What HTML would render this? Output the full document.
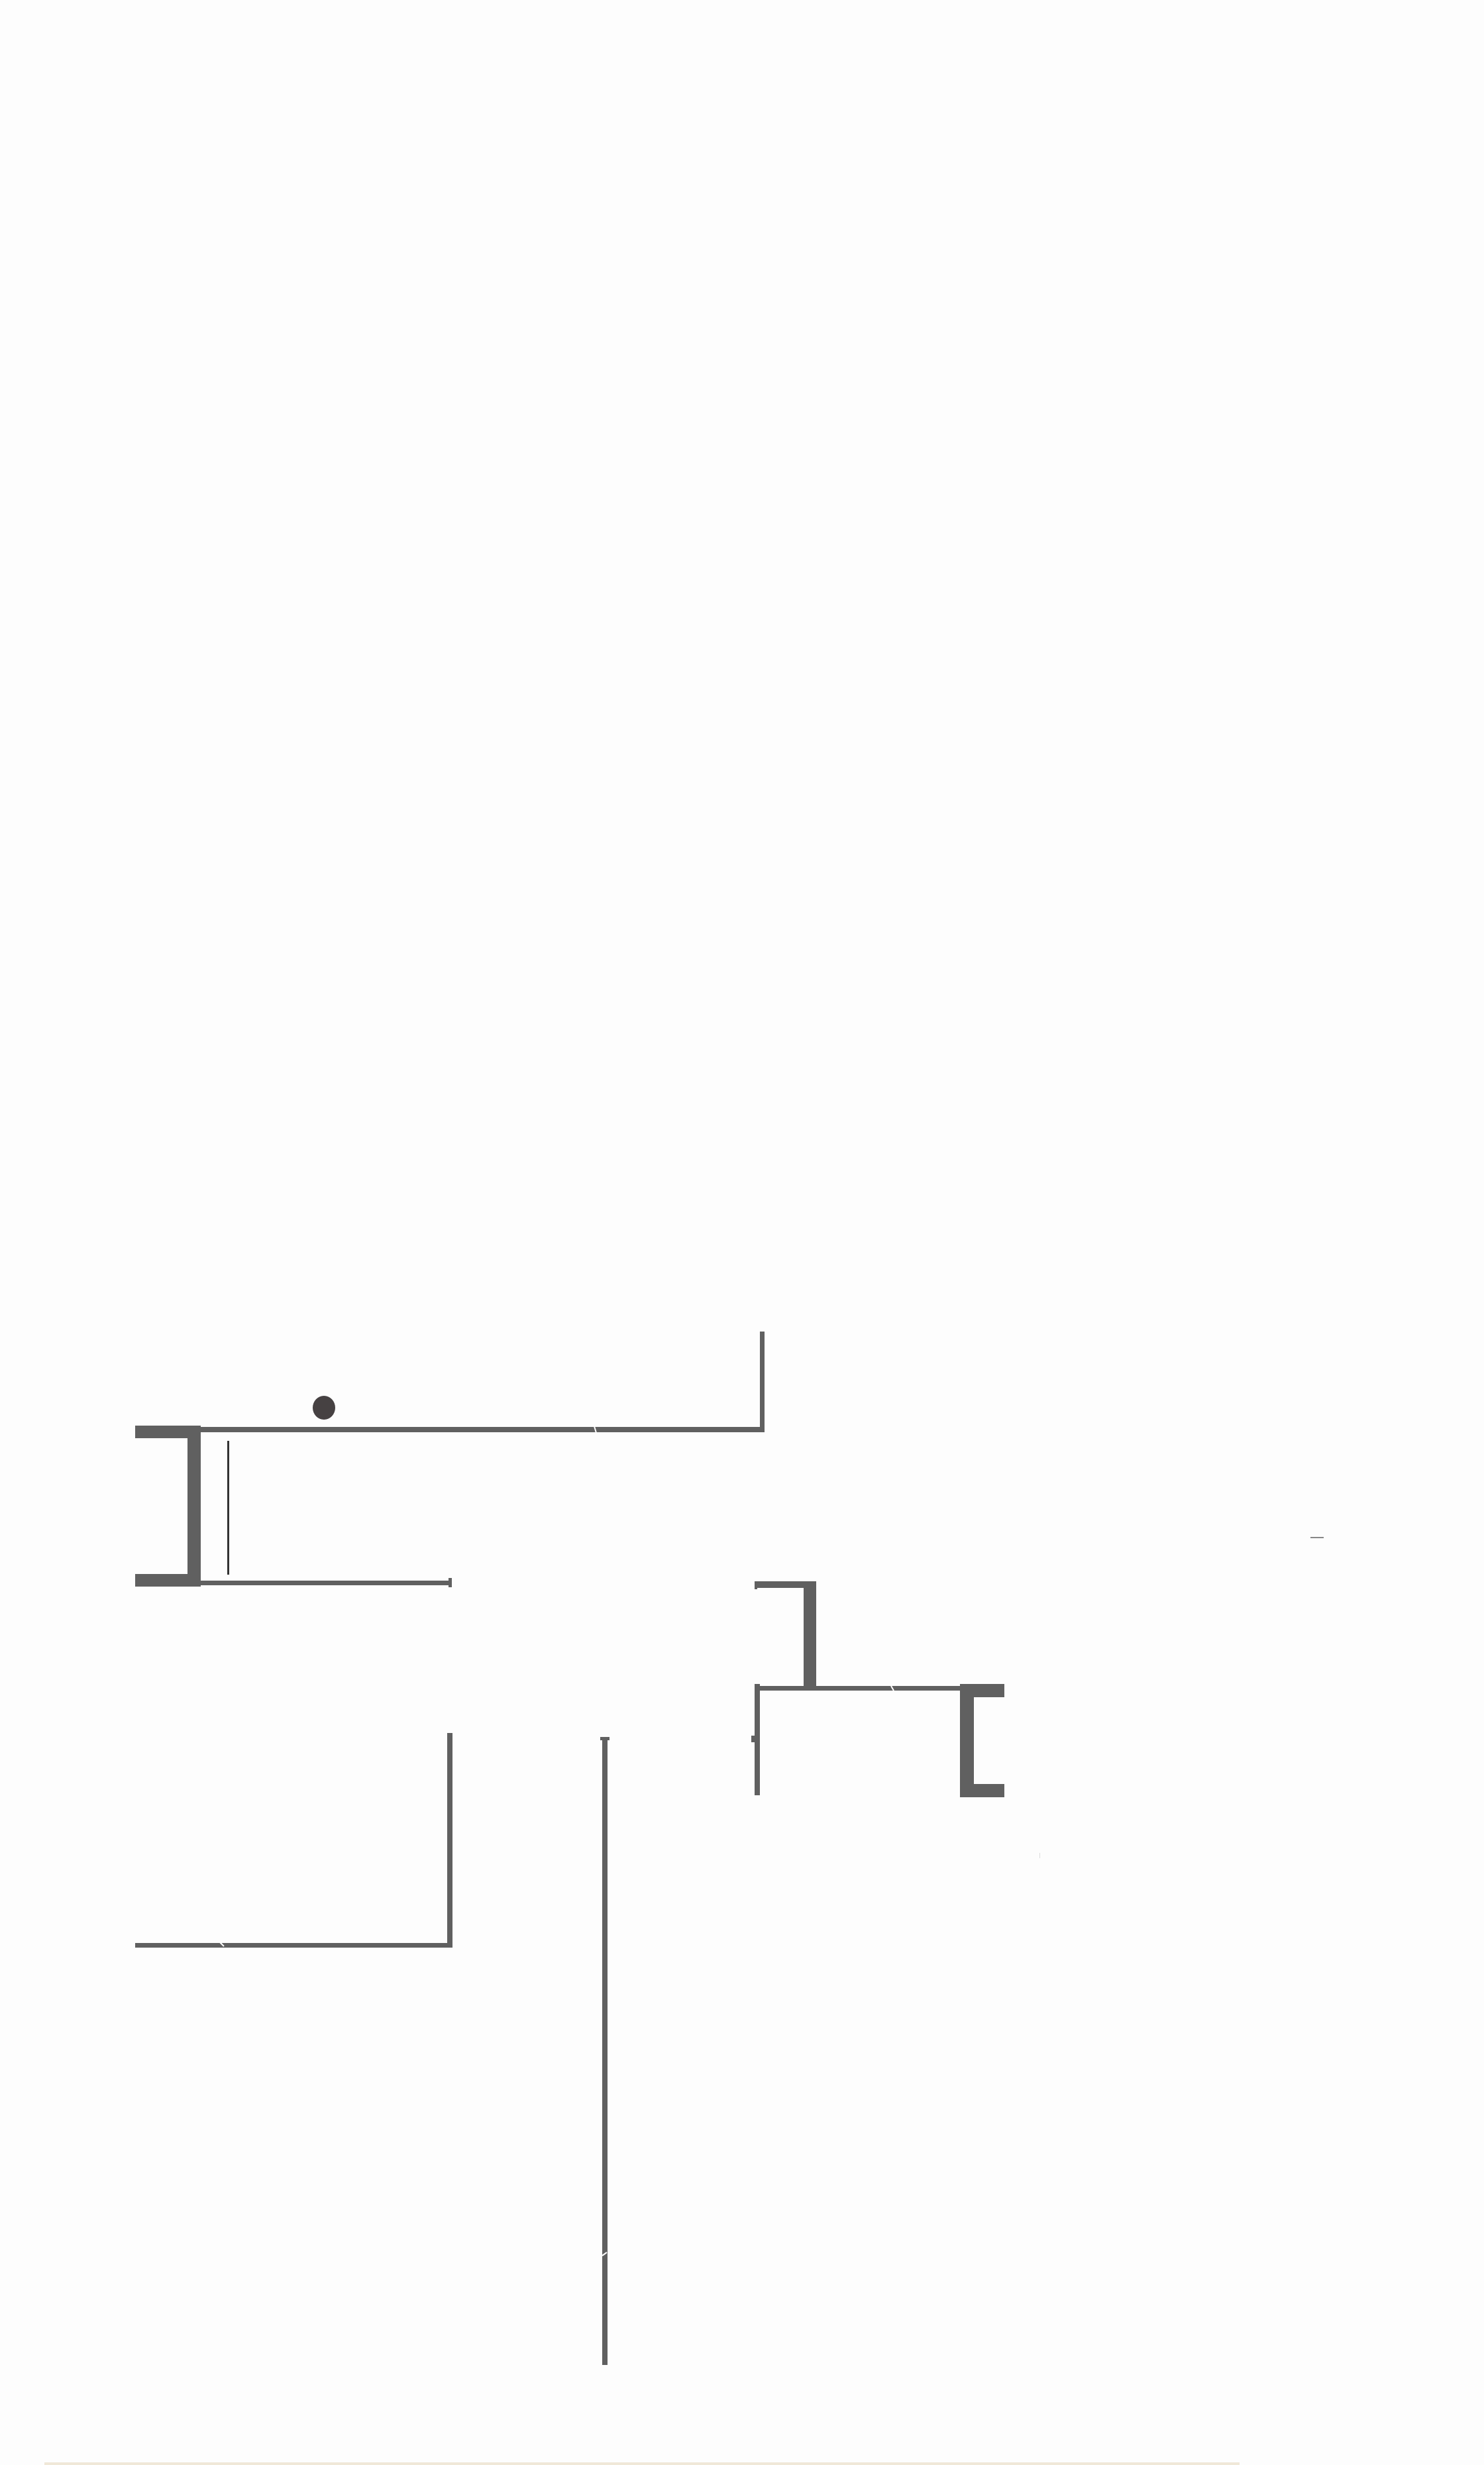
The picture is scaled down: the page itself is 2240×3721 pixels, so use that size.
<!DOCTYPE html>
<html><head><meta charset="utf-8"><style>
html,body{margin:0;padding:0;background:#fdfdfd;}
svg{display:block;}
</style></head><body>
<svg width="2240" height="3721" viewBox="0 0 2240 3721" xmlns="http://www.w3.org/2000/svg">
<rect width="2240" height="3721" fill="#fdfdfd"/>
<g fill="#606060">
<!-- left bracket -->
<rect x="204" y="2152" width="99" height="19"/>
<rect x="283" y="2152" width="20" height="243"/>
<rect x="204" y="2376" width="99" height="19"/>
<!-- top horizontal -->
<rect x="303" y="2154" width="851" height="8"/>
<rect x="1147" y="2010" width="7" height="152"/>
<!-- bottom horizontal from bracket -->
<rect x="303" y="2386" width="377" height="7"/>
<rect x="677" y="2382" width="5" height="14"/>
<!-- top small bracket right -->
<rect x="1139" y="2387" width="93" height="10"/>
<rect x="1139" y="2387" width="4" height="12"/>
<rect x="1213" y="2387" width="19" height="160"/>
<!-- middle horizontal -->
<rect x="1139" y="2545" width="310" height="7"/>
<rect x="1139" y="2542" width="8" height="168"/>
<rect x="1134" y="2620" width="6" height="10"/>
<!-- right bracket -->
<rect x="1449" y="2542" width="21" height="171"/>
<rect x="1449" y="2542" width="67" height="20"/>
<rect x="1449" y="2693" width="67" height="20"/>
<!-- lower left L -->
<rect x="204" y="2933" width="479" height="7"/>
<rect x="675" y="2616" width="8" height="324"/>
<!-- long vertical -->
<rect x="909" y="2622" width="8" height="948"/>
<rect x="906" y="2622" width="14" height="5"/>
</g>
<!-- dot -->
<ellipse cx="489" cy="2125" rx="17" ry="18" fill="#464142"/>
<!-- thin line -->
<rect x="343" y="2175" width="3" height="202" fill="#333"/>
<!-- label notches -->
<g stroke="#fff" stroke-width="2">
<line x1="897" y1="2153" x2="900" y2="2163"/>
<line x1="1345" y1="2545" x2="1349" y2="2552"/>
<line x1="332" y1="2932" x2="338" y2="2938"/>
<line x1="909" y1="3405" x2="916" y2="3400"/>
</g>
<rect x="1978" y="2320" width="20" height="2" fill="#888"/>
<rect x="1569" y="2797" width="1" height="8" fill="#ddd"/>
<rect x="67" y="3717" width="1804" height="4" fill="#f0e8d8"/>
</svg>
</body></html>
